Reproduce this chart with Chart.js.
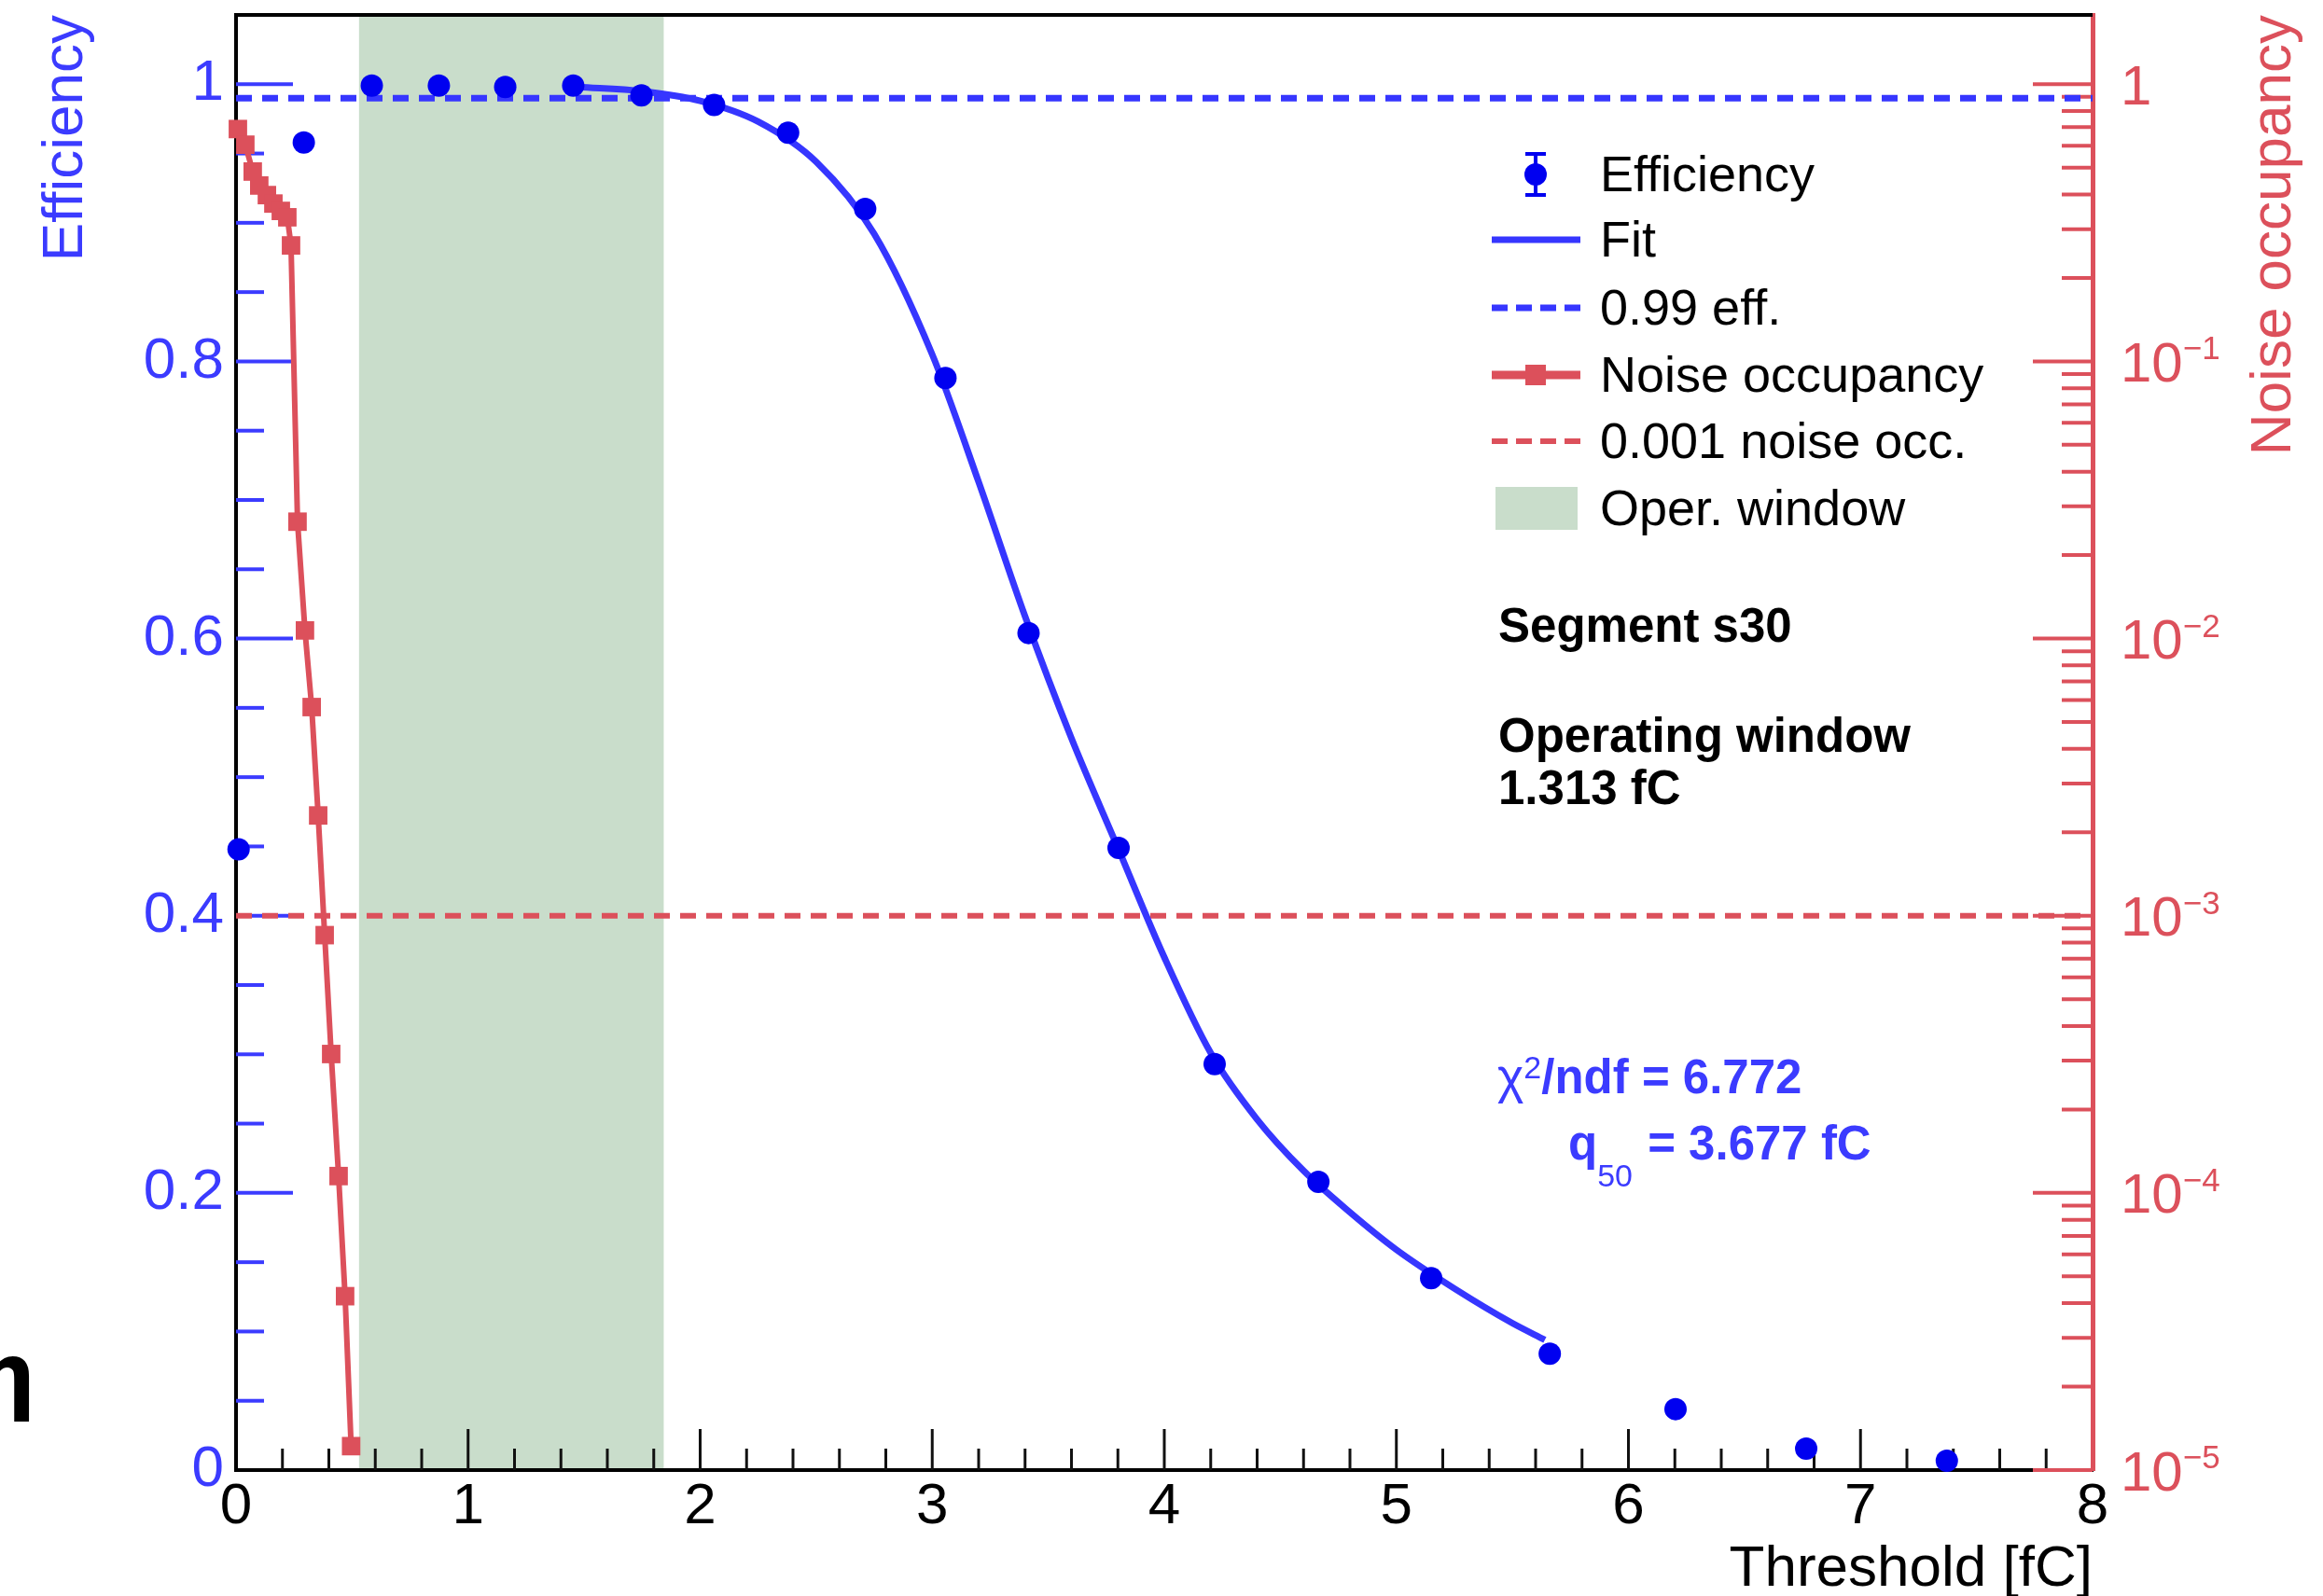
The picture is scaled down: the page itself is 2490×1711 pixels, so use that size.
<!DOCTYPE html>
<html>
<head>
<meta charset="utf-8">
<script src="https://cdn.jsdelivr.net/npm/chart.js@4.4.1/dist/chart.umd.min.js"></script>
<style>
  html, body { margin: 0; padding: 0; background: #fff; overflow: hidden; }
  canvas { display: block; }
</style>
</head>
<body>
<canvas id="myChart" width="2490" height="1711"></canvas>
<script>
// efficiency points
const effThreshold = [0.011, 0.292, 0.585, 0.874, 1.160, 1.453, 1.747, 2.060, 2.379, 2.711, 3.057, 3.415, 3.803, 4.217, 4.664, 5.150, 5.661, 6.203, 6.766, 7.372];
const effValues = [0.448, 0.958, 0.999, 0.999, 0.998, 0.999, 0.992, 0.985, 0.965, 0.910, 0.788, 0.604, 0.449, 0.293, 0.208, 0.1385, 0.084, 0.044, 0.0155, 0.0068];

// fit curve, sampled from the drawn line
const fitThreshold = [1.475, 1.75, 2.0, 2.25, 2.5, 2.75, 3.0, 3.2, 3.4, 3.6, 3.8, 4.0, 4.2, 4.4, 4.6, 4.8, 5.0, 5.25, 5.5, 5.64];
const fitValues = [0.998, 0.995, 0.988, 0.973, 0.944, 0.892, 0.805, 0.713, 0.616, 0.528, 0.449, 0.370, 0.301, 0.253, 0.216, 0.186, 0.159, 0.131, 0.106, 0.094];

// noise occupancy (right log axis)
const noiseThreshold = [0.008, 0.040, 0.072, 0.100, 0.133, 0.161, 0.193, 0.221, 0.237, 0.265, 0.297, 0.326, 0.354, 0.382, 0.410, 0.442, 0.470, 0.496];
const noiseValues = [0.689, 0.605, 0.484, 0.431, 0.398, 0.371, 0.349, 0.331, 0.262, 0.0264, 0.0107, 0.00566, 0.00230, 0.000851, 0.000317, 0.000115, 0.0000424, 0.0000122];

const effLine = 0.99;
const noiseLine = 0.001;
const windowStart = 0.53;
const windowEnd = 1.843;

const xTickValues = [0, 1, 2, 3, 4, 5, 6, 7, 8];
const effTickValues = [0, 0.2, 0.4, 0.6, 0.8, 1];
const noiseTickValues = [1, 1e-1, 1e-2, 1e-3, 1e-4, 1e-5];
const noiseTickExp = ['', '\u22121', '\u22122', '\u22123', '\u22124', '\u22125'];

const blue = '#0000f0';
const lineBlue = '#3636ff';
const labelBlue = '#3b3bff';
const red = '#dc505b';
const green = '#c9ddcb';
const FONT = 'Liberation Sans';

Chart.defaults.font.family = FONT;

function seg(ctx, x1, y1, x2, y2) {
    ctx.beginPath();
    ctx.moveTo(x1, y1);
    ctx.lineTo(x2, y2);
    ctx.stroke();
}

const overlay = {
    id: 'overlay',
    beforeDraw(chart) {
        const {ctx, chartArea: a, scales: {x}} = chart;
        const x0 = x.getPixelForValue(windowStart);
        const x1 = x.getPixelForValue(windowEnd);
        ctx.save();
        ctx.fillStyle = green;
        ctx.fillRect(x0, a.top, x1 - x0, a.bottom - a.top);
        ctx.restore();
    },
    beforeDatasetsDraw(chart) {
        const {ctx, chartArea: a, scales: {x, y, y2}} = chart;
        ctx.save();
        // x ticks, inward
        ctx.strokeStyle = '#111';
        ctx.lineWidth = 3;
        for (let i = 1; i < 40; i++) {
            const px = x.getPixelForValue(i / 5);
            seg(ctx, px, a.bottom, px, a.bottom - (i % 5 === 0 ? 44 : 23));
        }
        // left ticks
        ctx.strokeStyle = labelBlue;
        ctx.lineWidth = 4;
        for (let i = 1; i <= 20; i++) {
            const py = y.getPixelForValue(i * 0.05);
            seg(ctx, a.left, py, a.left + (i % 4 === 0 ? 61 : 30), py);
        }
        // right log ticks
        ctx.strokeStyle = red;
        for (let e = -5; e <= 0; e++) {
            for (let m = 1; m <= 9; m++) {
                const v = m * Math.pow(10, e);
                if (v > y2.max) break;
                const py = y2.getPixelForValue(v);
                seg(ctx, a.right, py, a.right - (m === 1 ? 64 : 33), py);
            }
        }
        // top frame
        ctx.strokeStyle = '#000';
        ctx.lineWidth = 4;
        seg(ctx, a.left - 2, a.top, a.right, a.top);
        ctx.restore();
    },
    afterDraw(chart) {
        const {ctx, chartArea: a, scales: {y2}} = chart;
        ctx.save();

        // right axis labels
        ctx.fillStyle = red;
        noiseTickValues.forEach((v, i) => {
            const py = y2.getPixelForValue(v);
            ctx.font = '60px ' + FONT;
            ctx.textBaseline = 'middle';
            ctx.textAlign = 'left';
            const base = noiseTickExp[i] ? '10' : '1';
            ctx.fillText(base, 2273, py + 5);
            if (noiseTickExp[i]) {
                const w = ctx.measureText(base).width;
                ctx.font = '35px ' + FONT;
                ctx.textBaseline = 'alphabetic';
                ctx.fillText(noiseTickExp[i], 2273 + w, py - 2);
            }
        });

        // axis titles
        ctx.font = '62px ' + FONT;
        ctx.textBaseline = 'alphabetic';
        ctx.fillStyle = '#000';
        ctx.textAlign = 'right';
        ctx.fillText('Threshold [fC]', a.right, 1700);

        ctx.save();
        ctx.translate(88, a.top);
        ctx.rotate(-Math.PI / 2);
        ctx.fillStyle = labelBlue;
        ctx.textAlign = 'right';
        ctx.fillText('Efficiency', 0, 0);
        ctx.restore();

        ctx.save();
        ctx.translate(2455, a.top);
        ctx.rotate(-Math.PI / 2);
        ctx.fillStyle = red;
        ctx.textAlign = 'right';
        ctx.fillText('Noise occupancy', 0, 0);
        ctx.restore();

        // legend
        const lx0 = 1599, lx1 = 1694, lxc = 1646, ltx = 1715;
        const rows = [187, 257, 330, 402, 473, 545];
        // efficiency marker with error bar
        ctx.strokeStyle = blue;
        ctx.fillStyle = blue;
        ctx.lineWidth = 4;
        seg(ctx, lxc, rows[0] - 22, lxc, rows[0] + 22);
        seg(ctx, lxc - 11, rows[0] - 22, lxc + 11, rows[0] - 22);
        seg(ctx, lxc - 11, rows[0] + 22, lxc + 11, rows[0] + 22);
        ctx.beginPath();
        ctx.arc(lxc, rows[0], 12, 0, Math.PI * 2);
        ctx.fill();
        // fit
        ctx.strokeStyle = lineBlue;
        ctx.lineWidth = 7;
        seg(ctx, lx0, rows[1], lx1, rows[1]);
        // 0.99 eff
        ctx.setLineDash([17, 9]);
        seg(ctx, lx0, rows[2], lx1, rows[2]);
        ctx.setLineDash([]);
        // noise occupancy
        ctx.strokeStyle = red;
        ctx.fillStyle = red;
        ctx.lineWidth = 9;
        seg(ctx, lx0, rows[3], lx1, rows[3]);
        ctx.fillRect(lxc - 11, rows[3] - 11, 22, 22);
        // 0.001 noise occ
        ctx.lineWidth = 6;
        ctx.setLineDash([17, 9]);
        seg(ctx, lx0, rows[4], lx1, rows[4]);
        ctx.setLineDash([]);
        // oper. window
        ctx.fillStyle = green;
        ctx.fillRect(1603, rows[5] - 23, 88, 46);

        ctx.fillStyle = '#000';
        ctx.font = '54px ' + FONT;
        ctx.textAlign = 'left';
        ctx.textBaseline = 'alphabetic';
        const legendText = ['Efficiency', 'Fit', '0.99 eff.', 'Noise occupancy', '0.001 noise occ.', 'Oper. window'];
        legendText.forEach((t, i) => ctx.fillText(t, ltx, rows[i] + 18));

        // info text
        ctx.font = 'bold 51px ' + FONT;
        ctx.fillText('Segment s30', 1606, 688);
        ctx.fillText('Operating window', 1606, 806);
        ctx.fillText('1.313 fC', 1606, 862);

        // fit results
        ctx.fillStyle = labelBlue;
        let cx = 1605;
        ctx.font = '54px ' + FONT;
        ctx.fillText('\u03c7', cx, 1172);
        cx += ctx.measureText('\u03c7').width;
        ctx.font = '34px ' + FONT;
        ctx.fillText('2', cx, 1156);
        cx += ctx.measureText('2').width;
        ctx.font = 'bold 51px ' + FONT;
        ctx.fillText('/ndf = 6.772', cx, 1172);

        cx = 1681;
        ctx.fillText('q', cx, 1243);
        cx += ctx.measureText('q').width;
        ctx.font = '34px ' + FONT;
        ctx.fillText('50', cx, 1272);
        cx += ctx.measureText('50').width + 2;
        ctx.font = 'bold 51px ' + FONT;
        ctx.fillText(' = 3.677 fC', cx, 1243);

        // clipped glyph at the far left edge of the source image
        ctx.fillStyle = '#000';
        ctx.font = 'bold 90px DejaVu Sans';
        ctx.fillText('\u03b7', -26, 1505);

        ctx.restore();
    }
};

const ctx = document.getElementById('myChart').getContext('2d');
new Chart(ctx, {
    type: 'line',
    data: {
        datasets: [
            {
                label: 'Efficiency',
                data: effThreshold.map((t, i) => ({x: t, y: effValues[i]})),
                yAxisID: 'y',
                showLine: false,
                pointStyle: 'circle',
                pointRadius: 12,
                pointBorderWidth: 0,
                pointBackgroundColor: blue,
                borderColor: blue,
                backgroundColor: blue,
                clip: false
            },
            {
                label: 'Fit',
                data: fitThreshold.map((t, i) => ({x: t, y: fitValues[i]})),
                yAxisID: 'y',
                borderColor: lineBlue,
                borderWidth: 7,
                pointRadius: 0,
                cubicInterpolationMode: 'monotone',
                fill: false
            },
            {
                label: '0.99 eff.',
                data: [{x: 0, y: effLine}, {x: 8, y: effLine}],
                yAxisID: 'y',
                borderColor: lineBlue,
                borderWidth: 7,
                borderDash: [17, 11],
                pointRadius: 0
            },
            {
                label: 'Noise occupancy',
                data: noiseThreshold.map((t, i) => ({x: t, y: noiseValues[i]})),
                yAxisID: 'y2',
                borderColor: red,
                backgroundColor: red,
                pointBackgroundColor: red,
                borderWidth: 6,
                pointStyle: 'rect',
                pointRadius: 14,
                pointBorderWidth: 0,
                clip: false
            },
            {
                label: '0.001 noise occ.',
                data: [{x: 0, y: noiseLine}, {x: 8, y: noiseLine}],
                yAxisID: 'y2',
                borderColor: red,
                borderWidth: 6,
                borderDash: [17, 11],
                pointRadius: 0
            }
        ]
    },
    options: {
        responsive: false,
        animation: false,
        devicePixelRatio: 1,
        layout: {padding: {top: 16, left: 0, right: 0, bottom: 0}},
        plugins: {legend: {display: false}, tooltip: {enabled: false}},
        scales: {
            x: {
                type: 'linear',
                min: 0,
                max: 8,
                afterBuildTicks: s => { s.ticks = xTickValues.map(v => ({value: v})); },
                afterFit: s => { s.height = 135; s.paddingLeft = 0; s.paddingRight = 0; },
                grid: {display: false, drawTicks: false},
                border: {display: true, color: '#000', width: 4},
                ticks: {color: '#000', font: {size: 62}, padding: 3, maxRotation: 0, autoSkip: false}
            },
            y: {
                type: 'linear',
                position: 'left',
                min: 0,
                max: 1.05,
                afterBuildTicks: s => { s.ticks = effTickValues.map(v => ({value: v})); },
                afterFit: s => { s.width = 253; s.paddingTop = 0; s.paddingBottom = 0; },
                grid: {display: false, drawTicks: false},
                border: {display: true, color: '#000', width: 4},
                ticks: {
                    color: labelBlue,
                    font: {size: 62},
                    padding: 13,
                    callback: v => (v === 0 ? '0' : v === 1 ? '1' : v.toFixed(1))
                }
            },
            y2: {
                type: 'logarithmic',
                position: 'right',
                min: 1e-5,
                max: 1.778,
                afterFit: s => { s.width = 247; s.paddingTop = 0; s.paddingBottom = 0; },
                grid: {display: false, drawTicks: false},
                border: {display: true, color: red, width: 5},
                ticks: {display: false}
            }
        }
    },
    plugins: [overlay]
});
</script>
</body>
</html>
